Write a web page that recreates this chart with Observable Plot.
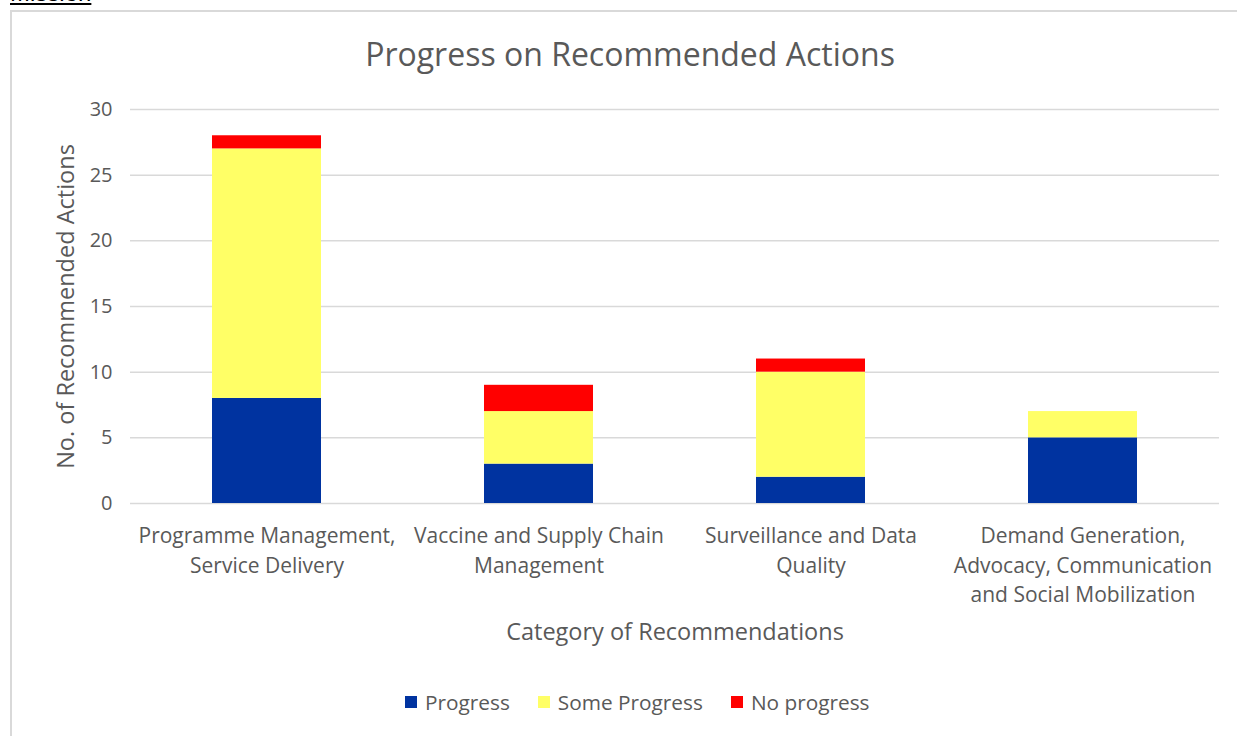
<!DOCTYPE html>
<html>
<head>
<meta charset="utf-8">
<script src="https://cdn.jsdelivr.net/npm/d3@7"></script>
<script src="https://cdn.jsdelivr.net/npm/@observablehq/plot@0.6"></script>
<style>
  html, body { margin: 0; padding: 0; background: #fff; overflow: hidden; }
  #wrap { position: relative; width: 1237px; height: 736px; font-family: "Open Sans", Lato, sans-serif; color: #595959; }
  #mission { position: absolute; left: 10px; top: -21px; font-size: 24px; color: #000; text-decoration: underline; font-family: "Liberation Sans", Arial, sans-serif; line-height: 28px; }
  #frame { position: absolute; left: 10px; top: 10px; width: 1240px; height: 740px; border: 2px solid #d9d9d9; box-sizing: border-box; }
  #title { position: absolute; left: 0; width: 1260px; top: 33px; text-align: center; font-size: 32px; line-height: 42px; }
  #chart { position: absolute; left: 0; top: 0; }
  #legend { position: absolute; top: 688px; left: 405px; display: flex; align-items: center; font-size: 20.8px; white-space: nowrap; line-height: 28px; }
  .sw { display: inline-block; width: 12px; height: 12px; margin-right: 8px; }
  .item { display: flex; align-items: center; margin-right: 28px; }
</style>
</head>
<body>
<div id="wrap">
  <div id="mission">Mission</div>
  <div id="frame"></div>
  <div id="title">Progress on Recommended Actions</div>
  <div id="chart"></div>
  <div id="legend"></div>
</div>
<script>
const categories = [
  "Programme Management, Service Delivery",
  "Vaccine and Supply Chain Management",
  "Surveillance and Data Quality",
  "Demand Generation, Advocacy, Communication and Social Mobilization"
];
const categoryLabels = [
  "Programme Management,\nService Delivery",
  "Vaccine and Supply Chain\nManagement",
  "Surveillance and Data\nQuality",
  "Demand Generation,\nAdvocacy, Communication\nand Social Mobilization"
];
const seriesNames = ["Progress", "Some Progress", "No progress"];
const seriesColors = ["#0033a0", "#ffff66", "#ff0000"];
const progress = [8, 3, 2, 5];
const someProgress = [19, 4, 8, 2];
const noProgress = [1, 2, 1, 0];
const yTicks = [0, 5, 10, 15, 20, 25, 30];

const seriesValues = [progress, someProgress, noProgress];
const rows = [];
seriesNames.forEach((s, si) => {
  categories.forEach((c, ci) => rows.push({category: c, status: s, value: seriesValues[si][ci]}));
});
const labelOf = new Map(categories.map((c, i) => [c, categoryLabels[i]]));

const plot = Plot.plot({
  width: 1237,
  height: 680,
  marginLeft: 130,
  marginRight: 18,
  marginTop: 109,
  marginBottom: 177,
  style: {fontFamily: "'Open Sans', Lato, sans-serif", color: "#595959", background: "transparent", overflow: "visible"},
  x: {domain: categories, paddingInner: 0.6, paddingOuter: 0.3, label: null},
  y: {domain: [0, 30], label: null},
  color: {domain: seriesNames, range: seriesColors},
  marks: [
    Plot.gridY(yTicks, {stroke: "#d9d9d9", strokeOpacity: 1, strokeWidth: 1.5}),
    Plot.barY(rows, {x: "category", y: "value", fill: "status", order: seriesNames}),
    Plot.axisY(yTicks, {tickSize: 0, tickPadding: 18, fontSize: 20, label: "No. of Recommended Actions", labelAnchor: "center", labelOffset: 73, labelArrow: false}),
    Plot.axisX({tickSize: 0, tickPadding: 19, fontSize: 21, lineHeight: 1.4, tickFormat: d => labelOf.get(d), label: null}),
    Plot.text(["Category of Recommendations"], {frameAnchor: "bottom", dy: 136, fontSize: 23.5, fill: "#595959"})
  ]
});
plot.querySelectorAll("[aria-label='y-axis label'] text").forEach(t => t.setAttribute("font-size", 23.5));
document.getElementById("chart").appendChild(plot);

const legend = document.getElementById("legend");
seriesNames.forEach((s, i) => {
  const item = document.createElement("div");
  item.className = "item";
  const sw = document.createElement("span");
  sw.className = "sw";
  sw.style.background = seriesColors[i];
  const lab = document.createElement("span");
  lab.textContent = s;
  item.appendChild(sw);
  item.appendChild(lab);
  legend.appendChild(item);
});
</script>
</body>
</html>
